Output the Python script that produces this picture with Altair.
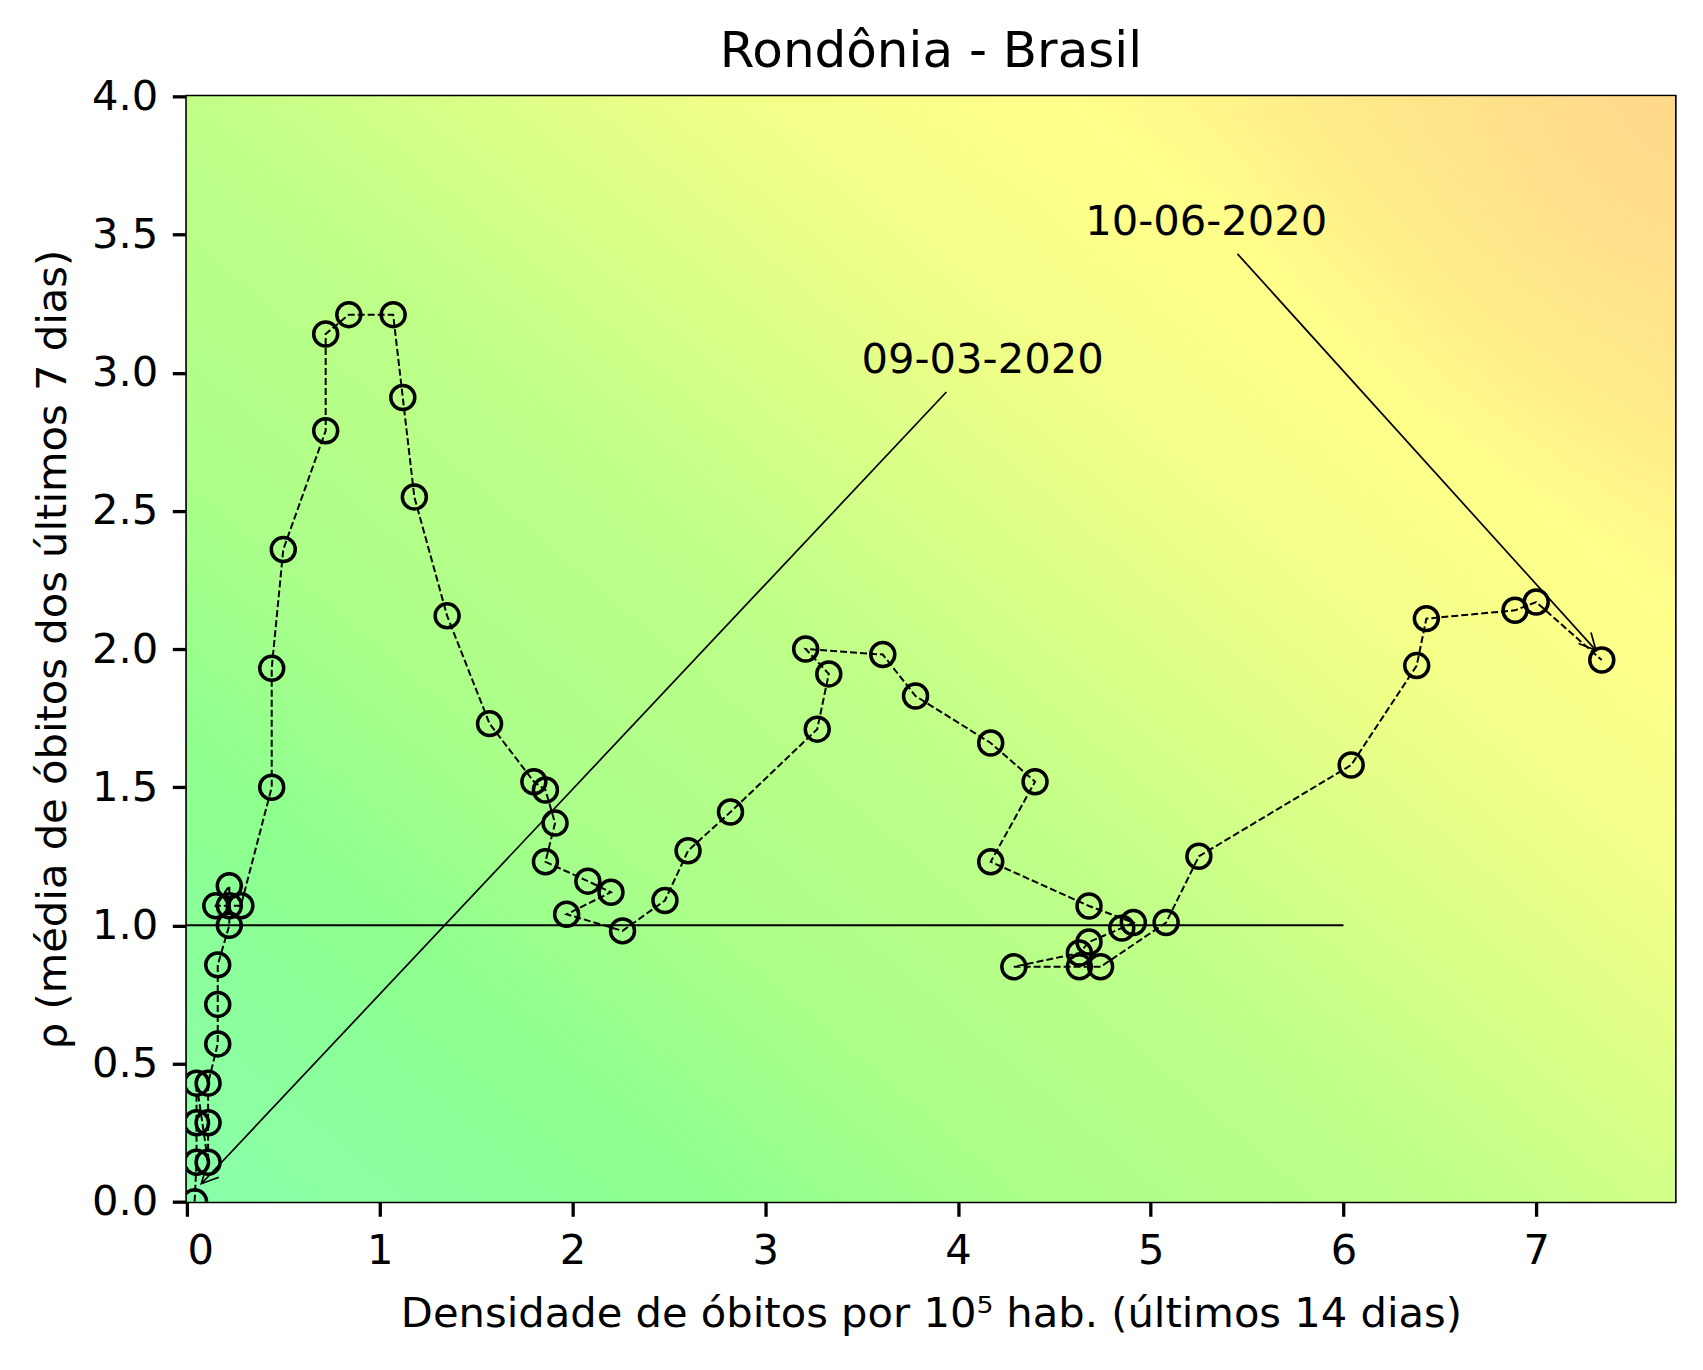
"""Risk diagram (density of deaths x rho) for Rondônia, drawn with Altair."""

import altair as alt
import pandas as pd

# trajectory, in time order
dens = [0.04, 0.05, 0.05, 0.05, 0.11, 0.11, 0.11, 0.16, 0.16, 0.16,
        0.22, 0.22, 0.15, 0.22, 0.28, 0.44, 0.44, 0.50, 0.72, 0.72,
        0.84, 1.07, 1.12, 1.18, 1.35, 1.57, 1.80, 1.86, 1.91, 1.86,
        2.08, 2.20, 1.97, 2.26, 2.48, 2.60, 2.82, 3.27, 3.33, 3.21,
        3.61, 3.78, 4.17, 4.40, 4.17, 4.68, 4.91, 4.85, 4.68, 4.63,
        4.29, 4.63, 4.74, 5.08, 5.25, 6.04, 6.38, 6.43, 6.89, 7.00, 7.34]
rho = [0.0, 0.143, 0.286, 0.429, 0.143, 0.286, 0.429, 0.571, 0.714, 0.857,
       1.0, 1.143, 1.071, 1.071, 1.071, 1.50, 1.93, 2.36, 2.79, 3.14,
       3.21, 3.21, 2.91, 2.55, 2.12, 1.73, 1.52, 1.49, 1.37, 1.23,
       1.16, 1.12, 1.04, 0.98, 1.09, 1.27, 1.41, 1.71, 1.91, 2.00,
       1.98, 1.83, 1.66, 1.52, 1.23, 1.07, 1.01, 0.99, 0.94, 0.90,
       0.85, 0.85, 0.85, 1.01, 1.25, 1.58, 1.94, 2.11, 2.14, 2.17, 1.96]

# date annotations (first and last day)
note_text = ["09-03-2020", "10-06-2020"]
note_x = [3.50, 4.66]
note_y = [3.00, 3.50]
arrow_x = [3.94, 5.45]
arrow_y = [2.93, 3.43]
tip_x = [0.075, 7.31]
tip_y = [0.065, 1.995]
tip_angle = [43, 318]

x_ticks = [0, 1, 2, 3, 4, 5, 6, 7]
y_ticks = [0, 0.5, 1.0, 1.5, 2.0, 2.5, 3.0, 3.5, 4.0]

FONT = "DejaVu Sans"
W, H = 1489, 1106

traj = pd.DataFrame({"i": range(len(dens)), "x": dens, "y": rho})
notes = pd.DataFrame({"x": note_x, "y": note_y, "text": note_text,
                      "x0": arrow_x, "y0": arrow_y,
                      "x1": tip_x, "y1": tip_y, "a": tip_angle})
frame = pd.DataFrame({"x0": [0], "x1": [7.72], "y0": [0], "y1": [4]})
ref = pd.DataFrame({"x0": [0], "x1": [6], "y0": [1]})

xs = alt.Scale(domain=[0, 7.72], nice=False, zero=False)
ys = alt.Scale(domain=[0, 4], nice=False, zero=False)
x_axis = alt.Axis(values=x_ticks, format="d",
                  title="Densidade de óbitos por 10⁵ hab. (últimos 14 dias)")
y_axis = alt.Axis(values=y_ticks, format=".1f",
                  title="ρ (média de óbitos dos últimos 7 dias)")


def X(field):
    return alt.X(field, type="quantitative", scale=xs, axis=x_axis)


def Y(field):
    return alt.Y(field, type="quantitative", scale=ys, axis=y_axis)


# background shading: diagonal green -> yellow -> orange
shade = {
    "gradient": "linear",
    "x1": 0, "y1": 1, "x2": 1.0646, "y2": 0.0743,
    "stops": [
        {"offset": 0.0, "color": "#88ffaa"},
        {"offset": 0.06, "color": "#8cffa2"},
        {"offset": 0.11, "color": "#8aff9a"},
        {"offset": 0.19, "color": "#8eff8e"},
        {"offset": 0.30, "color": "#aaff8a"},
        {"offset": 0.39, "color": "#b6ff88"},
        {"offset": 0.465, "color": "#c0ff88"},
        {"offset": 0.535, "color": "#d2ff88"},
        {"offset": 0.65, "color": "#f0ff88"},
        {"offset": 0.78, "color": "#ffff8a"},
        {"offset": 0.88, "color": "#ffec8a"},
        {"offset": 1.0, "color": "#ffe08a"},
    ],
}
# rounded orange patch in the top-right corner
corner = {
    "gradient": "radial",
    "x1": 1.0, "y1": 0.1286, "r1": 0,
    "x2": 1.0, "y2": 0.1286, "r2": 0.30,
    "stops": [
        {"offset": 0.0, "color": "rgba(255,214,138,0.85)"},
        {"offset": 0.5, "color": "rgba(255,218,138,0.35)"},
        {"offset": 1.0, "color": "rgba(255,224,138,0)"},
    ],
}

bg = alt.Chart(frame).mark_rect(fill=shade).encode(
    x=X("x0"), x2="x1", y=Y("y0"), y2="y1")

bg_corner = alt.Chart(frame).mark_rect(fill=corner).encode(
    x=X("x0"), x2="x1", y=Y("y0"), y2="y1")

ref_line = alt.Chart(ref).mark_rule(color="black", strokeWidth=2).encode(
    x=X("x0"), x2="x1", y=Y("y0"))

arrows = alt.Chart(notes).mark_rule(color="black", strokeWidth=1.7).encode(
    x=X("x0"), x2="x1", y=Y("y0"), y2="y1")

heads = alt.Chart(notes).mark_point(
    shape="M-0.5,-1L0,0L0.5,-1", filled=False, size=1115,
    color="black", strokeWidth=1.7, opacity=1).encode(
    x=X("x1"), y=Y("y1"), angle=alt.Angle("a:Q", scale=None))

path = alt.Chart(traj).mark_line(
    color="black", strokeWidth=2, strokeDash=[7, 3], clip=True).encode(
    x=X("x"), y=Y("y"), order=alt.Order("i:Q"))

dots = alt.Chart(traj).mark_point(
    shape="circle", filled=False, size=576, color="black",
    strokeWidth=3.5, opacity=1, clip=True).encode(x=X("x"), y=Y("y"))

labels = alt.Chart(notes).mark_text(
    align="left", baseline="alphabetic", font=FONT, fontSize=41.7,
    color="black").encode(x=X("x"), y=Y("y"), text="text:N")

chart = alt.layer(bg, bg_corner, ref_line, arrows, heads, path, dots,
                  labels).properties(
    width=W, height=H,
    title=alt.Title("Rondônia - Brasil", font=FONT, fontSize=50,
                    fontWeight="normal", color="black", anchor="middle",
                    frame="group", offset=-1),
    autosize=alt.AutoSizeParams(type="none"),
    padding={"left": 179, "top": 88, "right": 20, "bottom": 150},
).configure_view(
    stroke="black", strokeWidth=3.3
).configure_axis(
    labelFont=FONT, labelFontSize=41.7, labelColor="black",
    titleFont=FONT, titleFontSize=41.7, titleFontWeight="normal",
    titleColor="black", tickColor="black", tickSize=14.6, tickWidth=3.3,
    labelPadding=14.6, domain=False, grid=False, zindex=1
).configure_axisX(
    titlePadding=21
).configure_axisY(
    titlePadding=17
)

chart.save("out.html", embed_options={"renderer": "svg", "actions": False})
